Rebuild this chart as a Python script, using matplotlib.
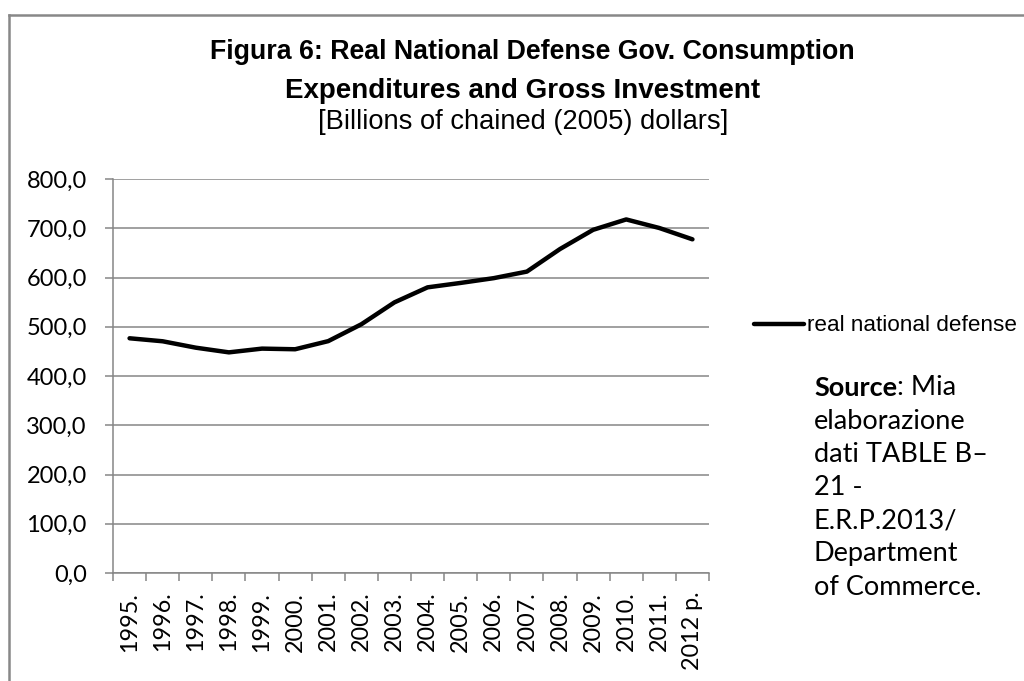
import matplotlib
matplotlib.use("Agg")
import matplotlib.pyplot as plt
import matplotlib as mpl
from matplotlib.lines import Line2D
from matplotlib.ticker import FixedLocator, FuncFormatter


# ==========================
# Data
# ==========================

years = [
    "1995.", "1996.", "1997.", "1998.", "1999.", "2000.",
    "2001.", "2002.", "2003.", "2004.", "2005.", "2006.",
    "2007.", "2008.", "2009.", "2010.", "2011.", "2012 p.",
]

defense = [
    476.6, 470.5, 457.5, 448.0, 455.6, 454.3,
    470.8, 505.0, 549.5, 580.0, 589.0, 598.7,
    612.0, 657.8, 696.8, 717.9, 700.5, 677.5,
]

y_ticks = [0, 100, 200, 300, 400, 500, 600, 700, 800]

title_lines = [
    "Figura 6: Real National Defense Gov. Consumption",
    "Expenditures and Gross Investment",
]
subtitle = "[Billions of chained (2005) dollars]"
series_name = "real national defense"

source_bold = "Source"
source_rest = ": Mia"
source_lines = [
    "elaborazione",
    "dati TABLE B\u2013",
    "21 -",
    "E.R.P.2013/",
    "Department",
    "of Commerce.",
]


# ==========================
# Style
# ==========================

W, H = 1024, 681
GRID = "#868686"
NARROW = ["Liberation Sans", "DejaVu Sans"]
BODY = ["Lato", "DejaVu Sans"]

mpl.rcParams["font.family"] = BODY


def fx(px):
    return px / W


def fy(py):
    return 1 - py / H


fig = plt.figure(figsize=(W / 100, H / 100), dpi=100)

# outer border (top and left edges visible)
fig.add_artist(Line2D([fx(9), 1], [fy(15), fy(15)], transform=fig.transFigure,
                      color="#888888", linewidth=1.8))
fig.add_artist(Line2D([fx(9), fx(9)], [fy(15), 0], transform=fig.transFigure,
                      color="#888888", linewidth=1.8))

ax = fig.add_axes([fx(113), fy(573), fx(709) - fx(113), fy(179) - fy(573)])

x = list(range(len(years)))

ax.plot(
    x,
    defense,
    color="black",
    linewidth=3.2,
    solid_capstyle="round",
    solid_joinstyle="round",
    label=series_name,
    zorder=3,
)

ax.set_xlim(-0.5, len(years) - 0.5)
ax.set_ylim(0, 800)

ax.set_yticks(y_ticks)
ax.yaxis.set_major_formatter(FuncFormatter(lambda v, p: f"{v:.1f}".replace(".", ",")))
ax.grid(True, axis="y", color=GRID, linewidth=1.1)
ax.set_axisbelow(True)

ax.set_xticks(x)
ax.set_xticklabels(years, rotation=90, va="top", ha="center")
ax.xaxis.set_minor_locator(FixedLocator([i - 0.5 for i in range(len(years) + 1)]))

ax.tick_params(axis="x", which="major", length=0, pad=13.5, labelsize=16.8)
ax.tick_params(axis="x", which="minor", length=5.8, width=1.1, color=GRID)
ax.tick_params(axis="y", length=5.8, width=1.1, color=GRID, pad=13, labelsize=17)

for side in ["top", "right"]:
    ax.spines[side].set_visible(False)
for side in ["left", "bottom"]:
    ax.spines[side].set_color(GRID)
    ax.spines[side].set_linewidth(1.1)


# ==========================
# Titles
# ==========================

fig.text(fx(532), fy(52), title_lines[0], ha="center", va="center",
         fontsize=19.3, fontweight="bold", family=NARROW)
fig.text(fx(523), fy(91), title_lines[1], ha="center", va="center",
         fontsize=20, fontweight="bold", family=NARROW)
fig.text(fx(523), fy(122), subtitle, ha="center", va="center",
         fontsize=19.6, family=NARROW)


# ==========================
# Legend
# ==========================

ax.legend(
    loc="center left",
    bbox_to_anchor=(fx(754), fy(326)),
    bbox_transform=fig.transFigure,
    frameon=False,
    borderpad=0,
    borderaxespad=0,
    handlelength=2.2,
    handletextpad=0.15,
    prop={"family": NARROW, "size": 16.2},
)


# ==========================
# Source note
# ==========================

t = fig.text(fx(814), fy(388), source_bold, ha="left", va="center",
             fontsize=19.5, fontweight="bold")
ax.annotate(source_rest, xy=(1, 0), xycoords=t, ha="left", va="bottom",
            fontsize=19.5, annotation_clip=False)

for i, line in enumerate(source_lines):
    fig.text(fx(814), fy(388 + 33.2 * (i + 1)), line, ha="left", va="center",
             fontsize=19.5)


fig.savefig("out.png", dpi=100)
